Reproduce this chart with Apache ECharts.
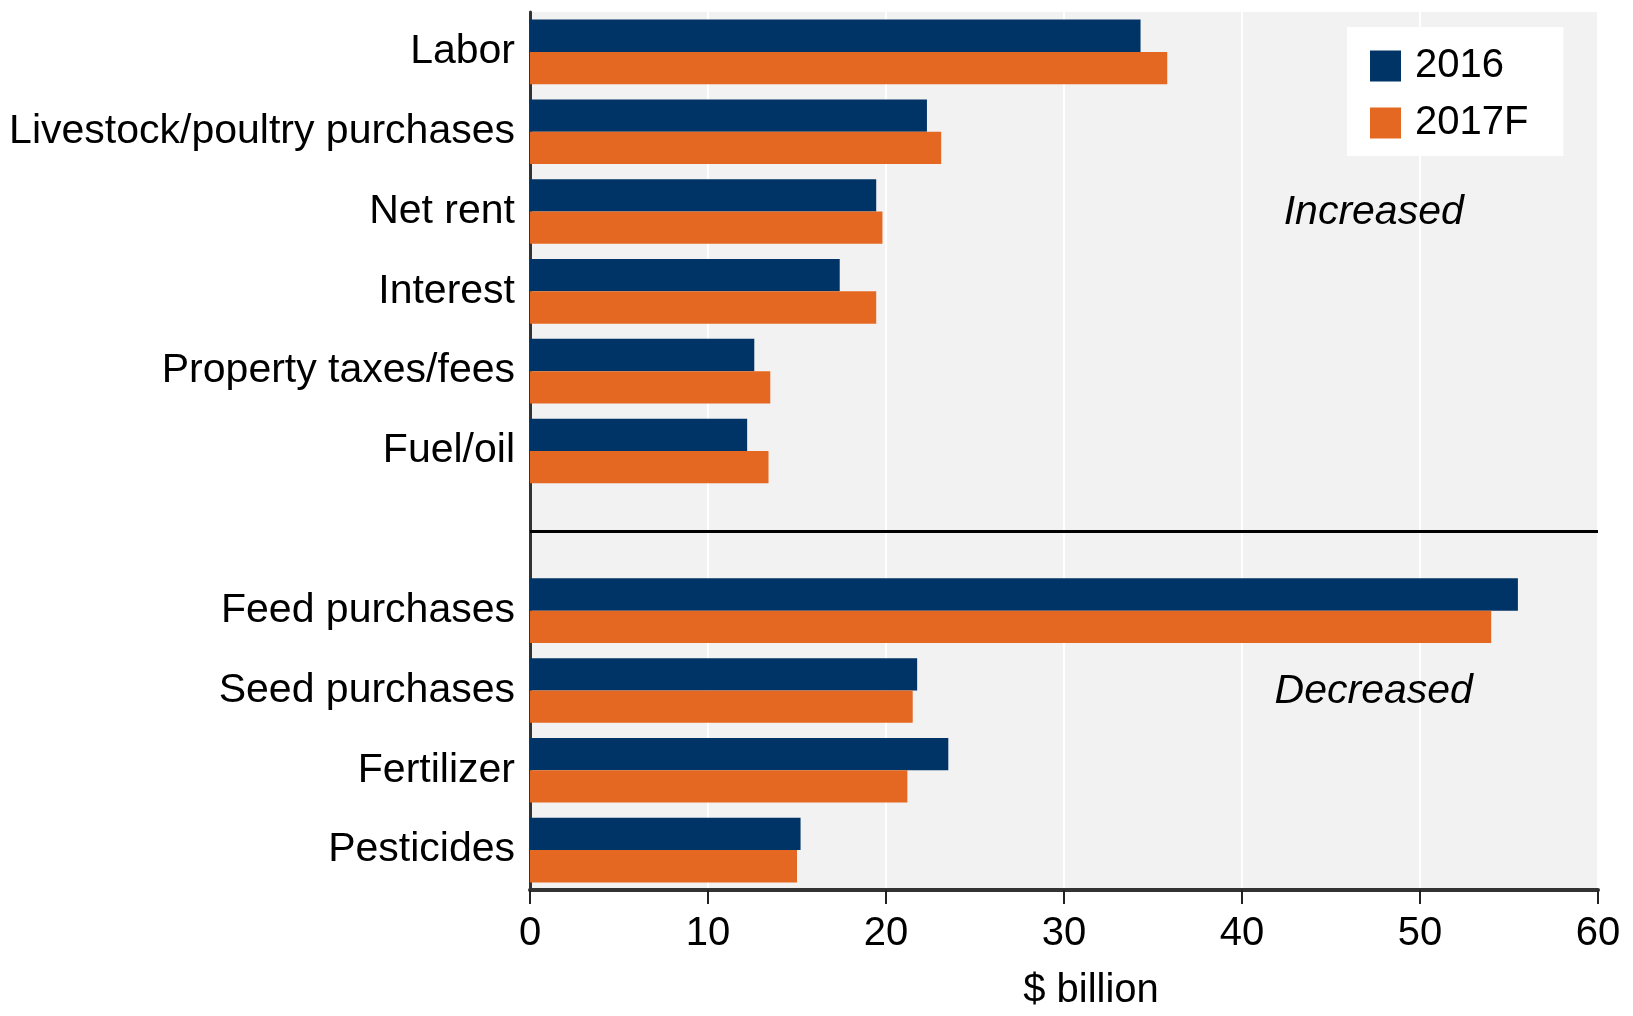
<!DOCTYPE html>
<html>
<head>
<meta charset="utf-8">
<script src="https://cdn.jsdelivr.net/npm/echarts@6/dist/echarts.min.js"></script>
<style>
html,body{margin:0;padding:0;background:#fff;}
#chart{width:1633px;height:1016px;}
</style>
</head>
<body>
<div id="chart"></div>
<script>
const categories = ['Labor','Livestock/poultry purchases','Net rent','Interest','Property taxes/fees','Fuel/oil','','Feed purchases','Seed purchases','Fertilizer','Pesticides'];
const values2016 = [34.3, 22.3, 19.45, 17.4, 12.6, 12.2, null, 55.5, 21.75, 23.5, 15.2];
const values2017F = [35.8, 23.1, 19.8, 19.45, 13.5, 13.4, null, 54.0, 21.5, 21.2, 15.0];
const seriesNames = ['2016', '2017F'];
const xTicks = {min: 0, max: 60, interval: 10};
const annotations = [
  {text: 'Increased', x: 47.4, cat: 2},
  {text: 'Decreased', x: 47.4, cat: 8}
];
const dividerIndex = 6;

const FONT = "'Liberation Sans', Arial, sans-serif";
const chart = echarts.init(document.getElementById('chart'));
chart.setOption({
  animation: false,
  textStyle: {fontFamily: FONT},
  grid: {left: 530, right: 35, top: 12, bottom: 119, show: true, backgroundColor: '#f2f2f2', borderWidth: 0},
  legend: {
    orient: 'vertical', left: 1347, top: 27,
    backgroundColor: '#ffffff',
    padding: [19, 35, 13, 23],
    itemWidth: 31, itemHeight: 31, itemGap: 17,
    icon: 'rect',
    textStyle: {fontSize: 40, color: '#000', fontFamily: FONT, padding: [0, 0, 0, 9]},
    data: seriesNames
  },
  xAxis: {
    type: 'value', min: xTicks.min, max: xTicks.max, interval: xTicks.interval,
    name: '$ billion', nameLocation: 'middle', nameGap: 81,
    nameTextStyle: {fontSize: 40, color: '#000', fontFamily: FONT, padding: [0, 0, 0, 54]},
    axisLine: {show: true, lineStyle: {color: '#333', width: 4}},
    axisTick: {show: true, length: 14, lineStyle: {color: '#222', width: 2}},
    axisLabel: {fontSize: 40, color: '#000', margin: 24, fontFamily: FONT},
    splitLine: {show: true, lineStyle: {color: '#ffffff', width: 2}}
  },
  yAxis: {
    type: 'category', data: categories, inverse: true,
    axisLine: {show: true, lineStyle: {color: '#333', width: 3}},
    axisTick: {show: false},
    axisLabel: {fontSize: 41, color: '#000', margin: 15, fontFamily: FONT, padding: [8, 0, 0, 0]},
    splitLine: {show: false}
  },
  series: [
    {
      name: seriesNames[0], type: 'bar', data: values2016,
      itemStyle: {color: '#003366'},
      barGap: '0%', barCategoryGap: '19%'
    },
    {
      name: seriesNames[1], type: 'bar', data: values2017F,
      itemStyle: {color: '#e46821'},
      barGap: '0%', barCategoryGap: '19%'
    },
    {
      name: 'annotations', type: 'scatter', data: [],
      silent: true,
      markLine: {
        silent: true, symbol: 'none',
        label: {show: false},
        lineStyle: {color: '#000', width: 3, type: 'solid'},
        data: [{yAxis: dividerIndex}]
      },
      markPoint: {
        silent: true,
        symbol: 'circle', symbolSize: 0,
        label: {show: true, position: 'inside', offset: [0, 1], fontSize: 41, fontStyle: 'italic', color: '#000', fontFamily: FONT,
          formatter: p => p.name},
        data: annotations.map(a => ({name: a.text, coord: [a.x, a.cat]}))
      }
    }
  ]
});
</script>
</body>
</html>
